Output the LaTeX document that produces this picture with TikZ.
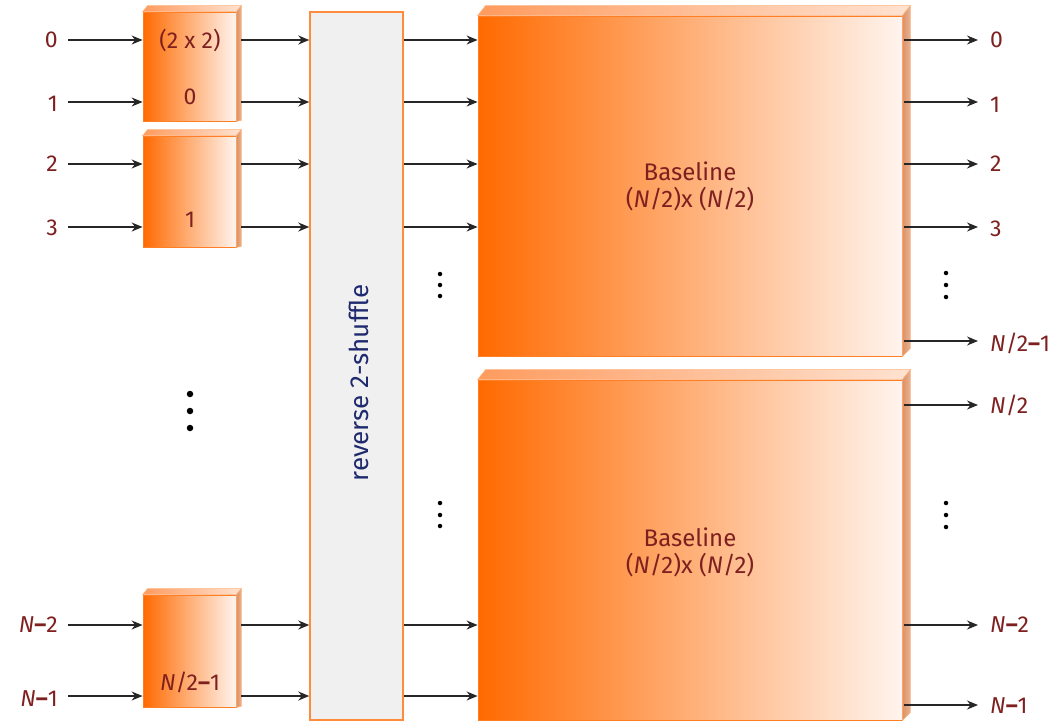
\documentclass[tikz,border=0pt]{standalone}
\usepackage{fontspec}
\setmainfont{Fira Sans}
\usetikzlibrary{arrows.meta,calc}
\definecolor{lbl}{HTML}{7E2020}
\definecolor{org}{HTML}{FF6A00}
\definecolor{orgl}{HTML}{FFF4EE}
\definecolor{bord}{HTML}{FF7F27}
\definecolor{sidec}{HTML}{D9956E}
\definecolor{topc}{HTML}{FF9B5E}
\definecolor{navy}{HTML}{1F2A6E}
\tikzset{
  arr/.style={draw=black!85,line width=1.4pt,-{Stealth[length=11pt,width=9pt]}},
  lab/.style={inner sep=0pt,text=lbl,font=\fontsize{23}{27}\selectfont},
  face/.style={rectangle,inner sep=0pt,left color=org,right color=orgl,draw=bord,line width=0.8pt},
  sidefill/.style={left color=sidec!80!bord,right color=sidec!70,draw=bord!60,line width=0.5pt},
  topfill/.style={left color=topc,right color=orgl!80!topc,draw=bord!60,line width=0.5pt},
  dotc/.style={circle,fill=black,inner sep=0pt,minimum size=#1},
}
\newcommand{\Ndash}{\textbf{–}}
\begin{document}
\begin{tikzpicture}[x=1pt,y=-1pt]
\useasboundingbox (0,0) rectangle (1056,723);
% rows
\foreach \n/\y in {r0/40,r1/102,r2/164,r3/227,rm/341,rh/405,ra/625,rb/696,rc/705}{\coordinate (\n) at (0,\y);}
% small boxes
\node[face,minimum width=93pt,minimum height=109pt] (b0) at (189.5,66.5) {};
\node[face,minimum width=93pt,minimum height=111pt] (b1) at (189.5,191.5) {};
\node[face,minimum width=93pt,minimum height=112pt] (bn) at (189.5,651) {};
\foreach \b in {b0,b1,bn}{
  \path[topfill] (\b.north west) -- ++(5,-6) -- ($(\b.north east)+(5,-6)$) -- (\b.north east) -- cycle;
  \path[sidefill] (\b.north east) -- ++(5,-6) -- ($(\b.south east)+(5,-1)$) -- (\b.south east) -- cycle;
}
\node[lab] (t0) at (190,40) {(2 x 2)};
\node[lab] (t1) at (190,97) {0};
\node[lab] (t2) at (190,220) {1};
\node[lab] (t3) at (190,682) {\textit{N}/2\Ndash1};
% left dots
\node[dotc=6.5pt] (d1) at (190,394) {};
\node[dotc=6.5pt] (d2) at (190,411) {};
\node[dotc=6.5pt] (d3) at (190,428) {};
% shuffle
\node[rectangle,fill=black!6,draw=bord!90,line width=1.5pt,minimum width=93pt,minimum height=708pt] (sh) at (356.5,366) {};
\node[rotate=90,text=navy,font=\fontsize{26}{30}\selectfont] (shl) at (359,383) {reverse 2-shuffle};
% baseline boxes
\node[face,minimum width=424pt,minimum height=340pt] (B1) at (690,186) {};
\node[face,minimum width=424pt,minimum height=340pt] (B2) at (690,550) {};
\foreach \b in {B1,B2}{
  \path[topfill] (\b.north west) -- ++(8,-10) -- ($(\b.north east)+(8,-10)$) -- (\b.north east) -- cycle;
  \path[sidefill] (\b.north east) -- ++(8,-10) -- ($(\b.south east)+(8,-8)$) -- (\b.south east) -- cycle;
}
\node[lab,align=center,font=\fontsize{24}{27}\selectfont] (B1t) at (690,186) {Baseline\\(\textit{N}/2)x (\textit{N}/2)};
\node[lab,align=center,font=\fontsize{24}{27}\selectfont] (B2t) at (690,552) {Baseline\\(\textit{N}/2)x (\textit{N}/2)};
% input labels
\node[lab,anchor=east] (i0) at (58,40) {0};
\node[lab,anchor=east] (i1) at (58,104) {1};
\node[lab,anchor=east] (i2) at (58,164) {2};
\node[lab,anchor=east] (i3) at (58,228) {3};
\node[lab,anchor=east] (in2) at (58,625) {\textit{N}\Ndash2};
\node[lab,anchor=east] (in1) at (58,699) {\textit{N}\Ndash1};
% inputs to small boxes
\draw[arr] (68,40) coordinate (a0) -- (a0 -| b0.west);
\draw[arr] (68,102) coordinate (a1) -- (a1 -| b0.west);
\draw[arr] (68,164) coordinate (a2) -- (a2 -| b1.west);
\draw[arr] (68,227) coordinate (a3) -- (a3 -| b1.west);
\draw[arr] (68,625) coordinate (a4) -- (a4 -| bn.west);
\draw[arr] (68,696) coordinate (a5) -- (a5 -| bn.west);
% small boxes to shuffle
\foreach \r/\b in {r0/b0,r1/b0,r2/b1,r3/b1,ra/bn,rb/bn}{
  \draw[arr] ($(\b.east |- \r)+(5,0)$) -- (\r -| sh.west);
}
% shuffle to baselines
\foreach \r/\b in {r0/B1,r1/B1,r2/B1,r3/B1,ra/B2,rb/B2}{
  \draw[arr] (\r -| sh.east) -- (\r -| \b.west);
}
\node[dotc=4.5pt] (m1) at (440,274) {};
\node[dotc=4.5pt] (m2) at (440,285) {};
\node[dotc=4.5pt] (m3) at (440,296) {};
\node[dotc=4.5pt] (m4) at (440,503) {};
\node[dotc=4.5pt] (m5) at (440,515) {};
\node[dotc=4.5pt] (m6) at (440,526) {};
% output labels
\node[lab,anchor=west] (o0) at (990,40) {0};
\node[lab,anchor=west] (o1) at (990,105) {1};
\node[lab,anchor=west] (o2) at (990,164) {2};
\node[lab,anchor=west] (o3) at (990,229) {3};
\node[lab,anchor=west] (om) at (990,343) {\textit{N}/2\Ndash1};
\node[lab,anchor=west] (oh) at (990,405) {\textit{N}/2};
\node[lab,anchor=west] (oa) at (990,625) {\textit{N}\Ndash2};
\node[lab,anchor=west] (oc) at (990,706) {\textit{N}\Ndash1};
\foreach \r/\b/\o in {r0/B1/o0,r1/B1/o1,r2/B1/o2,r3/B1/o3,rm/B1/om,rh/B2/oh,ra/B2/oa,rc/B2/oc}{
  \draw[arr] ($(\b.east |- \r)+(2,0)$) -- ($(\r -| \o.west)+(-12,0)$);
}
\node[dotc=4.5pt] (n1) at (946,273) {};
\node[dotc=4.5pt] (n2) at (946,285) {};
\node[dotc=4.5pt] (n3) at (946,297) {};
\node[dotc=4.5pt] (n4) at (946,503) {};
\node[dotc=4.5pt] (n5) at (946,515) {};
\node[dotc=4.5pt] (n6) at (946,527) {};
\end{tikzpicture}
\end{document}
